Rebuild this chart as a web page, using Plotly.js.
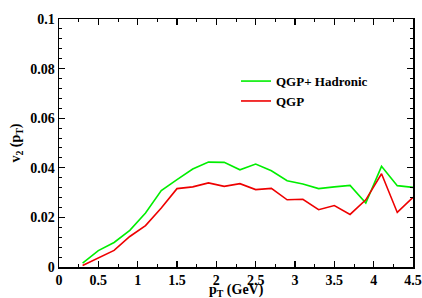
<!DOCTYPE html>
<html><head><meta charset="utf-8">
<script src="https://cdn.plot.ly/plotly-3.0.1.min.js"></script>
<style>html,body{margin:0;padding:0;background:#fff}#c{width:422px;height:298px}</style>
</head><body><div id="c"></div>
<script>
const pT = [0.3,0.5,0.7,0.9,1.1,1.3,1.5,1.7,1.9,2.1,2.3,2.5,2.7,2.9,3.1,3.3,3.5,3.7,3.9,4.1,4.3,4.5];
const v2Hadronic = [0.0016,0.0066,0.0099,0.0148,0.0218,0.0308,0.0352,0.0395,0.0423,0.0422,0.0392,0.0415,0.0388,0.0348,0.0335,0.0316,0.0323,0.0329,0.0258,0.0406,0.0328,0.0321];
const v2QGP = [0.0006,0.0036,0.0067,0.0123,0.0167,0.0238,0.0316,0.0323,0.0339,0.0325,0.0336,0.0312,0.0317,0.0271,0.0273,0.0231,0.0248,0.0212,0.0271,0.0376,0.0220,0.0281];
const names = ["QGP+ Hadronic","QGP"];
const xTicks = [0,0.5,1,1.5,2,2.5,3,3.5,4,4.5];
const xTickText = ["0","0.5","1","1.5","2","2.5","3","3.5","4","4.5"];
const yTicks = [0,0.02,0.04,0.06,0.08,0.1];
const yTickText = ["0","0.02","0.04","0.06","0.08","0.1"];

const fam = "Liberation Serif, DejaVu Serif, serif";
const font = {family:fam, size:14, color:"#000", weight:700};
const legFont = {family:fam, size:13, color:"#000", weight:700};
const data = [
  {x:pT, y:v2Hadronic, mode:"lines", name:names[0], line:{color:"#00ee00", width:1.6}},
  {x:pT, y:v2QGP, mode:"lines", name:names[1], line:{color:"#ee0000", width:1.6}}
];
const axisCommon = {showline:true, linecolor:"#000", linewidth:1.5, mirror:"ticks", ticks:"inside", ticklen:6, tickwidth:1.2, tickcolor:"#000", showgrid:false, zeroline:false, tickfont:font};
const layout = {
  width:422, height:298, margin:{l:59, r:9, t:19, b:31},
  paper_bgcolor:"#fff", plot_bgcolor:"#fff", font:font,
  xaxis:Object.assign({}, axisCommon, {range:[0,4.5], tickvals:xTicks, ticktext:xTickText,
    minor:{dtick:0.25, ticks:"inside", ticklen:3, tickwidth:1, tickcolor:"#000"}}),
  yaxis:Object.assign({}, axisCommon, {range:[0,0.1], tickvals:yTicks, ticktext:yTickText,
    minor:{dtick:0.004, ticks:"inside", ticklen:3, tickwidth:1, tickcolor:"#000"},
    title:{text:"v<sub>2</sub> (p<sub>T</sub>)", font:font, standoff:6}}),
  annotations:[{text:"p<sub>T</sub> (GeV)", xref:"paper", yref:"paper", x:0.5, y:0, yshift:-13, xanchor:"center", yanchor:"top", showarrow:false, font:font}],
  legend:{x:0.5, y:0.81, xanchor:"left", yanchor:"top", bgcolor:"rgba(0,0,0,0)", font:legFont, tracegroupgap:0, itemwidth:30},
  showlegend:true
};
Plotly.newPlot("c", data, layout, {staticPlot:true, displayModeBar:false});
</script></body></html>
